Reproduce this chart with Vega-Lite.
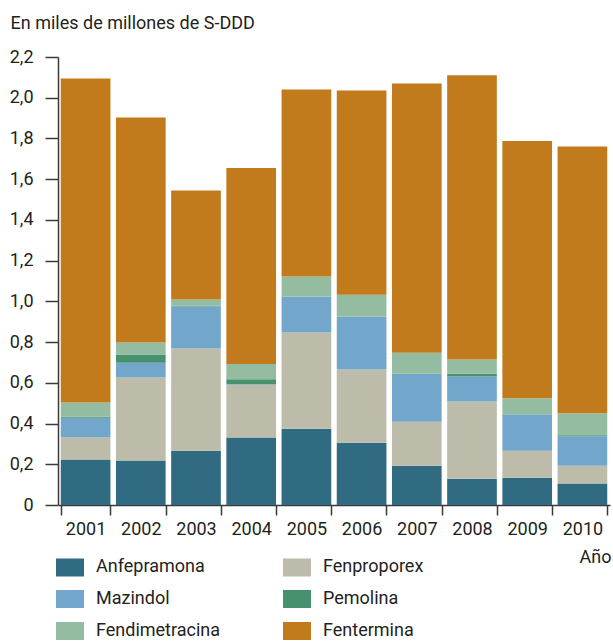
{
  "$schema": "https://vega.github.io/schema/vega-lite/v6.json",
  "width": 552,
  "height": 448,
  "autosize": {"type": "none"},
  "padding": {"left": 58, "top": 57, "right": 3, "bottom": 136},
  "background": "white",
  "config": {
    "view": {"stroke": null},
    "font": "Roboto",
    "axis": {"domainColor": "#3a3a3a", "tickColor": "#3a3a3a", "labelColor": "#231f20", "titleColor": "#231f20", "labelFont": "Roboto", "titleFont": "Roboto", "domainWidth": 1.5, "tickWidth": 1.5}
  },
  "datasets": {
    "orden": [
      {"droga": "Anfepramona", "rango": 1},
      {"droga": "Fenproporex", "rango": 2},
      {"droga": "Mazindol", "rango": 3},
      {"droga": "Pemolina", "rango": 4},
      {"droga": "Fendimetracina", "rango": 5},
      {"droga": "Fentermina", "rango": 6}
    ],
    "valores": [
      {"anio": "2001", "droga": "Anfepramona", "valor": 0.223},
      {"anio": "2001", "droga": "Fenproporex", "valor": 0.108},
      {"anio": "2001", "droga": "Mazindol", "valor": 0.097},
      {"anio": "2001", "droga": "Pemolina", "valor": 0.005},
      {"anio": "2001", "droga": "Fendimetracina", "valor": 0.070},
      {"anio": "2001", "droga": "Fentermina", "valor": 1.592},
      {"anio": "2002", "droga": "Anfepramona", "valor": 0.218},
      {"anio": "2002", "droga": "Fenproporex", "valor": 0.408},
      {"anio": "2002", "droga": "Mazindol", "valor": 0.073},
      {"anio": "2002", "droga": "Pemolina", "valor": 0.040},
      {"anio": "2002", "droga": "Fendimetracina", "valor": 0.059},
      {"anio": "2002", "droga": "Fentermina", "valor": 1.105},
      {"anio": "2003", "droga": "Anfepramona", "valor": 0.267},
      {"anio": "2003", "droga": "Fenproporex", "valor": 0.501},
      {"anio": "2003", "droga": "Mazindol", "valor": 0.208},
      {"anio": "2003", "droga": "Pemolina", "valor": 0.002},
      {"anio": "2003", "droga": "Fendimetracina", "valor": 0.031},
      {"anio": "2003", "droga": "Fentermina", "valor": 0.536},
      {"anio": "2004", "droga": "Anfepramona", "valor": 0.331},
      {"anio": "2004", "droga": "Fenproporex", "valor": 0.260},
      {"anio": "2004", "droga": "Mazindol", "valor": 0.002},
      {"anio": "2004", "droga": "Pemolina", "valor": 0.025},
      {"anio": "2004", "droga": "Fendimetracina", "valor": 0.074},
      {"anio": "2004", "droga": "Fentermina", "valor": 0.963},
      {"anio": "2005", "droga": "Anfepramona", "valor": 0.375},
      {"anio": "2005", "droga": "Fenproporex", "valor": 0.472},
      {"anio": "2005", "droga": "Mazindol", "valor": 0.177},
      {"anio": "2005", "droga": "Pemolina", "valor": 0.000},
      {"anio": "2005", "droga": "Fendimetracina", "valor": 0.098},
      {"anio": "2005", "droga": "Fentermina", "valor": 0.919},
      {"anio": "2006", "droga": "Anfepramona", "valor": 0.306},
      {"anio": "2006", "droga": "Fenproporex", "valor": 0.359},
      {"anio": "2006", "droga": "Mazindol", "valor": 0.260},
      {"anio": "2006", "droga": "Pemolina", "valor": 0.000},
      {"anio": "2006", "droga": "Fendimetracina", "valor": 0.108},
      {"anio": "2006", "droga": "Fentermina", "valor": 1.003},
      {"anio": "2007", "droga": "Anfepramona", "valor": 0.193},
      {"anio": "2007", "droga": "Fenproporex", "valor": 0.216},
      {"anio": "2007", "droga": "Mazindol", "valor": 0.236},
      {"anio": "2007", "droga": "Pemolina", "valor": 0.000},
      {"anio": "2007", "droga": "Fendimetracina", "valor": 0.103},
      {"anio": "2007", "droga": "Fentermina", "valor": 1.322},
      {"anio": "2008", "droga": "Anfepramona", "valor": 0.129},
      {"anio": "2008", "droga": "Fenproporex", "valor": 0.379},
      {"anio": "2008", "droga": "Mazindol", "valor": 0.123},
      {"anio": "2008", "droga": "Pemolina", "valor": 0.014},
      {"anio": "2008", "droga": "Fendimetracina", "valor": 0.069},
      {"anio": "2008", "droga": "Fentermina", "valor": 1.396},
      {"anio": "2009", "droga": "Anfepramona", "valor": 0.134},
      {"anio": "2009", "droga": "Fenproporex", "valor": 0.133},
      {"anio": "2009", "droga": "Mazindol", "valor": 0.177},
      {"anio": "2009", "droga": "Pemolina", "valor": 0.002},
      {"anio": "2009", "droga": "Fendimetracina", "valor": 0.078},
      {"anio": "2009", "droga": "Fentermina", "valor": 1.263},
      {"anio": "2010", "droga": "Anfepramona", "valor": 0.105},
      {"anio": "2010", "droga": "Fenproporex", "valor": 0.088},
      {"anio": "2010", "droga": "Mazindol", "valor": 0.144},
      {"anio": "2010", "droga": "Pemolina", "valor": 0.005},
      {"anio": "2010", "droga": "Fendimetracina", "valor": 0.108},
      {"anio": "2010", "droga": "Fentermina", "valor": 1.311}
    ]
  },
  "data": {"name": "valores"},
  "transform": [
    {"lookup": "droga", "from": {"data": {"name": "orden"}, "key": "droga", "fields": ["rango"]}}
  ],
  "mark": {"type": "bar"},
  "encoding": {
    "x": {
      "field": "anio",
      "type": "ordinal",
      "scale": {"paddingInner": 0.1, "paddingOuter": 0.05},
      "axis": {
        "title": "Año",
        "titleFontSize": 18,
        "titleFontWeight": "normal",
        "titleX": 553,
        "titleY": 57,
        "titleAlign": "right",
        "titleAnchor": "end",
        "titleBaseline": "alphabetic",
        "labelAngle": 0,
        "labelFontSize": 18,
        "labelBaseline": "alphabetic",
        "tickSize": 10,
        "labelPadding": 19,
        "tickBand": "extent"
      }
    },
    "y": {
      "field": "valor",
      "type": "quantitative",
      "stack": "zero",
      "scale": {"domain": [0, 2.2], "nice": false},
      "axis": {
        "title": "En miles de millones de S-DDD",
        "titleFontSize": 18,
        "titleFontWeight": "normal",
        "titleAngle": 0,
        "titleAlign": "left",
        "titleAnchor": "start",
        "titleBaseline": "alphabetic",
        "titleX": -48,
        "titleY": -29,
        "values": [0, 0.2, 0.4, 0.6, 0.8, 1.0, 1.2, 1.4, 1.6, 1.8, 2.0, 2.2],
        "labelExpr": "datum.value == 0 ? '0' : replace(format(datum.value, '.1f'), '.', ',')",
        "labelFontSize": 18,
        "tickSize": 13,
        "labelPadding": 12,
        "grid": false
      }
    },
    "order": {"field": "rango", "type": "quantitative", "sort": "ascending"},
    "color": {
      "field": "droga",
      "type": "nominal",
      "scale": {
        "domain": ["Anfepramona", "Fenproporex", "Mazindol", "Pemolina", "Fendimetracina", "Fentermina"],
        "range": ["#316b82", "#bdbcaa", "#72a7cb", "#47916e", "#93bca0", "#c17b1c"]
      },
      "legend": {
        "title": null,
        "orient": "none",
        "legendX": -2,
        "legendY": 496,
        "values": ["Anfepramona", "Mazindol", "Fendimetracina", "Fenproporex", "Pemolina", "Fentermina"],
        "columns": 2,
        "columnPadding": 62,
        "rowPadding": 8,
        "symbolType": "M-1,-0.643H1V0.643H-1Z",
        "symbolSize": 784,
        "symbolStrokeWidth": 0,
        "symbolOpacity": 1,
        "labelFontSize": 18,
        "labelOffset": 12,
        "labelColor": "#231f20",
        "labelFont": "Roboto",
        "gridAlign": "all"
      }
    }
  }
}
